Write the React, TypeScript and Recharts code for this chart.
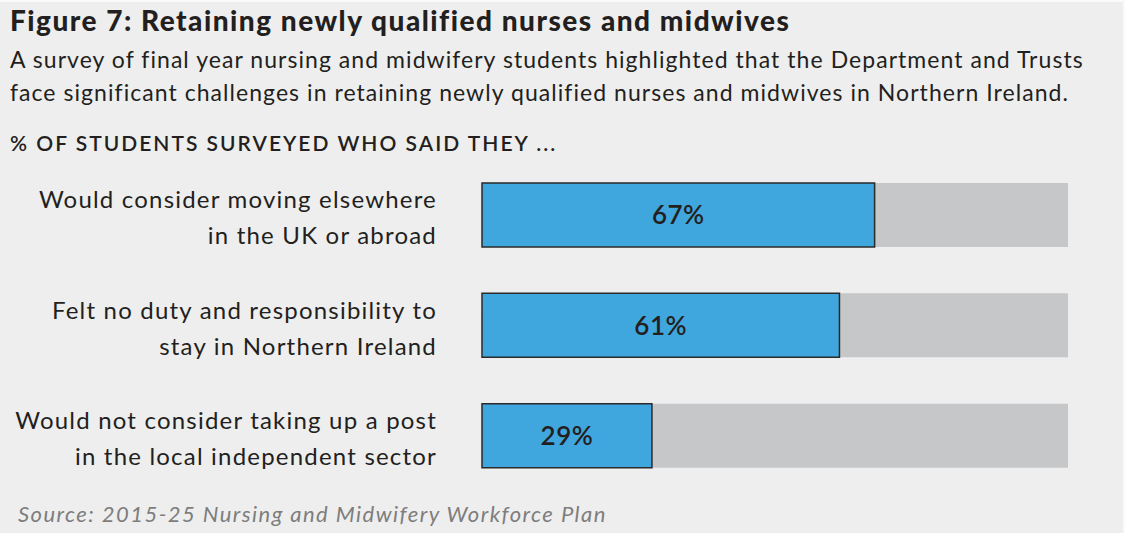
import React from 'react';
import { BarChart, Bar, XAxis, YAxis, LabelList } from 'recharts';

const categories = [
  ['Would consider moving elsewhere', 'in the UK or abroad'],
  ['Felt no duty and responsibility to', 'stay in Northern Ireland'],
  ['Would not consider taking up a post', 'in the local independent sector'],
];
const shares = [67, 61, 29];
const xTicks = [0, 100];

const data = categories.map((lines, i) => ({ name: lines.join('|'), value: shares[i] }));

const FONT = 'Lato, "Noto Sans", sans-serif';

function CategoryTick(props: any) {
  const { x, y, payload } = props;
  const lines = String(payload.value).split('|');
  return (
    <text x={x - 37} y={y} textAnchor="end" fontFamily={FONT} fontSize={24} fill="#231f20" letterSpacing={1.2}>
      {lines.map((l, i) => (
        <tspan key={i} x={x - 37} dy={i === 0 ? -7 : 36}>{l}</tspan>
      ))}
    </text>
  );
}

export default function App() {
  return (
    <div style={{ position: 'absolute', left: 0, top: 0, width: 1125, height: 533, background: '#fafafa', overflow: 'hidden' }}>
      <div style={{ position: 'absolute', left: 0, top: 2, width: 1123, height: 531, background: '#eeeeee' }} />
      <div style={{ position: 'absolute', left: 0, top: 0 }}>
        <BarChart
          width={1125}
          height={533}
          data={data}
          layout="vertical"
          margin={{ top: 160, right: 57, bottom: 42, left: 0 }}
        >
          <XAxis type="number" domain={[0, 100]} ticks={xTicks} hide />
          <YAxis
            type="category"
            dataKey="name"
            width={482}
            axisLine={false}
            tickLine={false}
            tick={<CategoryTick />}
          />
          <Bar
            dataKey="value"
            barSize={64}
            fill="#40a6de"
            stroke="#2a2a2a"
            strokeWidth={1.5}
            background={{ fill: '#c6c7c8', stroke: 'none' }}
            isAnimationActive={false}
          >
            <LabelList
              dataKey="value"
              position="center"
              formatter={(v: any) => `${v}%`}
              style={{ fontFamily: FONT, fontSize: 26, fontWeight: 600, fill: '#231f20', letterSpacing: 0.5 }}
            />
          </Bar>
        </BarChart>
      </div>
      <div style={{ position: 'absolute', left: 10, top: 4, fontFamily: FONT, fontSize: 28, fontWeight: 900, color: '#231f20', lineHeight: '32px', letterSpacing: 1.5, whiteSpace: 'nowrap' }}>
        Figure 7: Retaining newly qualified nurses and midwives
      </div>
      <div style={{ position: 'absolute', left: 10, top: 43, fontFamily: FONT, fontSize: 23, color: '#231f20', lineHeight: '33px', letterSpacing: 1.05, whiteSpace: 'nowrap' }}>
        A survey of final year nursing and midwifery students highlighted that the Department and Trusts
        <br />
        face significant challenges in retaining newly qualified nurses and midwives in Northern Ireland.
      </div>
      <div style={{ position: 'absolute', left: 10, top: 131, fontFamily: FONT, fontSize: 21, fontWeight: 600, color: '#231f20', lineHeight: '24px', letterSpacing: 2, whiteSpace: 'nowrap' }}>
        % OF STUDENTS SURVEYED WHO SAID THEY ...
      </div>
      <div style={{ position: 'absolute', left: 18, top: 502, fontFamily: FONT, fontSize: 22, fontStyle: 'italic', color: '#7d7d7d', lineHeight: '24px', letterSpacing: 1.45, whiteSpace: 'nowrap' }}>
        Source: 2015-25 Nursing and Midwifery Workforce Plan
      </div>
    </div>
  );
}
